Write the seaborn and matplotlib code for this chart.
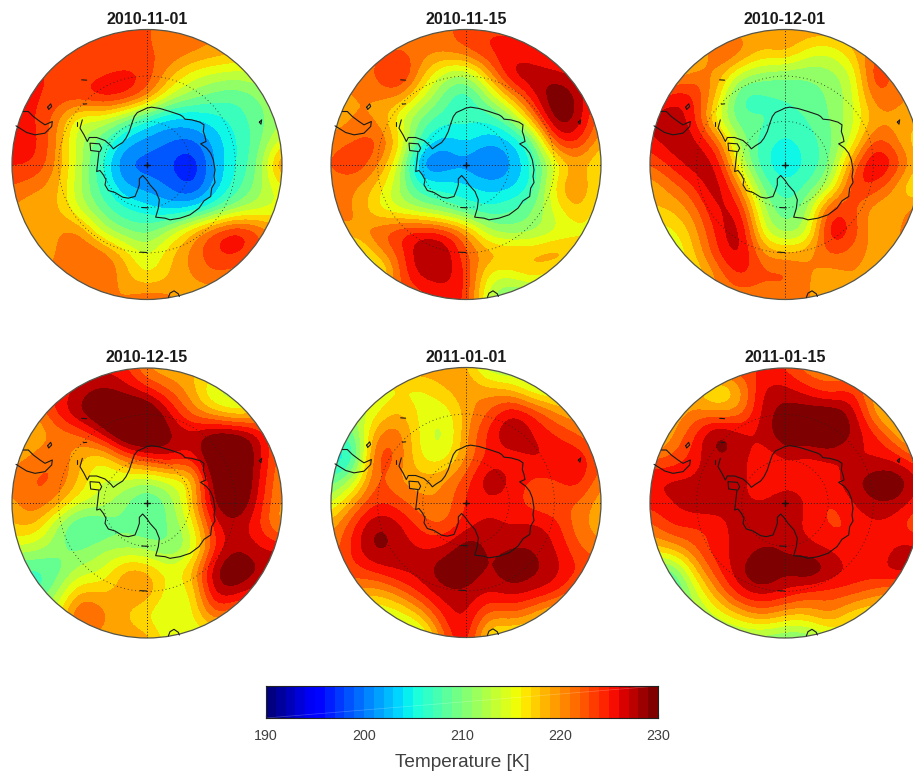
import numpy as np
import seaborn as sns
from matplotlib import pyplot as plt
from matplotlib.colors import BoundaryNorm
from matplotlib.patches import Circle

sns.set_theme(style="white")
plt.rcParams["font.family"] = ["Liberation Sans", "DejaVu Sans"]

dates = ["2010-11-01", "2010-11-15", "2010-12-01", "2010-12-15", "2011-01-01", "2011-01-15"]
bar_ticks = [190, 200, 210, 220, 230]

# temperature [K] read on a 13x13 grid over each disc, top row first
t_2010_11_01 = [
    [225, 225, 225, 225, 225, 225, 222, 221, 221, 220, 219, 219, 219],
    [224, 224, 224, 222, 220.5, 222, 222, 222, 221, 220, 219, 218, 218],
    [224, 224, 224, 222, 224, 225, 224, 219, 215, 213.5, 213, 214, 214],
    [224.5, 224.5, 223.5, 224.5, 226.5, 226, 222, 214, 211, 209, 208, 210, 213],
    [224.5, 224.5, 221, 213, 214, 210, 205, 202.5, 203.5, 205, 207, 209, 212],
    [224.5, 225.5, 220, 212, 209, 202.5, 201, 200, 199, 202.5, 206, 209, 215],
    [224.5, 224.5, 220, 213, 206, 199, 199, 198, 195, 202.5, 206, 210, 223],
    [222, 220.5, 219, 212, 207, 202, 201, 200, 196.5, 202.5, 207, 211, 216],
    [220, 218, 219, 213, 209, 206, 205, 202.5, 203.5, 207, 211, 213, 214],
    [218, 218, 220, 221.5, 213, 210, 209, 213, 219, 224, 227, 223, 219],
    [218, 218, 220, 222.5, 222.5, 218, 213, 218, 221, 224, 225, 221, 220],
    [220, 220, 221, 221, 222.5, 219, 215, 218, 220, 222, 220, 220, 220],
    [220, 220, 220, 220, 220, 220, 222.5, 221, 218, 218, 218, 218, 218],
]
t_2010_11_15 = [
    [221, 221, 221, 221, 221, 221, 223.5, 223.5, 223.5, 223.5, 222, 222, 222],
    [221, 221, 221, 222, 221, 221, 222.5, 225, 225, 224, 222, 222, 222],
    [220, 220, 222.5, 227.5, 219, 213, 211, 219, 228, 228, 227, 225, 225],
    [220, 220, 220, 220.5, 215, 209, 205, 212, 219, 226, 231, 228, 221],
    [218, 220, 220, 214, 209, 207, 207, 206, 210, 220, 231, 228, 220],
    [221, 222, 224, 218, 207, 202, 205, 202, 203, 208, 225, 225, 218],
    [222, 225, 221, 215, 198, 200, 201, 198, 201.5, 206, 214, 219, 215],
    [221, 220, 218, 212, 206, 205, 205, 203, 203, 206, 218, 221.5, 215],
    [220, 221, 215, 213, 211, 209, 206, 206, 208, 210, 215, 219, 214],
    [220, 220, 222, 225, 226, 225, 221, 212, 210, 211, 213, 215, 215],
    [212, 212, 219, 222, 229, 229, 222, 220, 220, 219, 221, 218, 218],
    [211, 211, 211, 222, 227, 227, 225, 214, 214, 218, 214, 214, 214],
    [222, 222, 222, 222, 222, 225, 225, 212, 208, 208, 208, 208, 208],
]
t_2010_12_01 = [
    [219, 219, 219, 219, 219, 219, 220, 220, 220, 220, 220, 220, 220],
    [215, 215, 215, 224, 222, 218, 220, 215, 214, 218, 222, 222, 222],
    [218, 218, 221, 220, 213, 211, 210, 210, 211, 213, 226, 220, 220],
    [222, 226, 225, 218, 206, 207, 208, 209, 210, 213, 222.5, 221, 219],
    [227, 228, 225, 213, 208, 209, 207, 208, 210, 213, 219, 219, 219],
    [225, 228, 227, 222.5, 211, 207, 205, 207, 209, 214, 224, 220, 215],
    [222, 225, 228, 227, 213, 206, 204, 206, 209, 221, 228.5, 224, 218],
    [218, 221, 224, 229, 220, 209, 206, 208, 212, 225, 224, 219, 213],
    [218, 218, 221, 227, 226, 212, 208, 211, 225, 222.5, 218, 218, 222],
    [215, 215, 219, 225, 229, 214, 210, 212, 228, 224, 218, 219, 225],
    [213, 213, 218, 224, 228, 220, 219, 220, 222.5, 221, 219, 220, 220],
    [215, 215, 215, 220, 225, 222.5, 224, 220, 218, 220, 219, 219, 219],
    [220, 220, 220, 220, 220, 220, 220, 220, 220, 220, 220, 220, 220],
]
t_2010_12_15 = [
    [225, 225, 225, 225, 225, 225, 219, 218, 218, 218, 218, 218, 218],
    [224, 224, 224, 227, 229, 227, 225, 222, 219, 212, 212, 212, 212],
    [219, 219, 225, 229, 232, 233, 233, 226, 221, 218, 215, 218, 218],
    [215, 218, 220, 221, 226, 233, 233, 229, 227, 231, 231, 227, 220],
    [219, 221, 222.5, 218, 215, 221, 225, 227, 224, 233, 232, 227, 220],
    [221, 222.5, 222.5, 218, 213, 214, 211, 214, 215, 231, 233, 226, 219],
    [219, 222.5, 220, 214, 214, 210, 207, 210, 218, 229, 232, 225, 219],
    [218, 219, 211, 206, 207, 210, 208, 210, 214, 226, 227, 224, 218],
    [214, 213, 211, 209, 212, 211, 211, 209, 212, 224, 228, 226, 226],
    [207, 207, 208, 213, 213, 220, 219, 215, 218, 229, 232, 228, 228],
    [206, 206, 212, 219, 218, 219, 221, 214, 215, 228, 227, 224, 224],
    [214, 214, 214, 225, 221, 218, 215, 213, 215, 222.5, 219, 219, 219],
    [219, 219, 219, 219, 219, 219, 220, 214, 214, 214, 214, 214, 214],
]
t_2011_01_01 = [
    [220, 220, 220, 220, 220, 220, 219, 211, 211, 211, 211, 211, 211],
    [214, 214, 214, 215, 215, 218, 220, 219, 218, 213, 213, 213, 213],
    [212, 212, 215, 219, 215, 214, 219, 222, 227, 224, 220, 218, 218],
    [208, 208, 221, 222, 215, 212, 220, 225, 229.5, 226, 224, 222, 219],
    [204, 204, 225, 222, 215, 214, 220, 225, 224, 227, 226, 226, 222],
    [208, 212, 224, 219, 219, 220, 223, 229, 226, 223, 224, 226, 220],
    [213, 220, 224, 223, 220, 220, 225, 225, 225, 222, 222, 222, 218],
    [219, 224, 229, 227, 223, 221, 225, 227, 225.5, 227, 225, 220, 219],
    [220, 225, 230, 227, 226, 226, 231, 227, 228, 228, 226, 222, 220],
    [223, 223, 225, 227, 227, 230.5, 230.5, 227, 231, 229, 227, 224, 224],
    [220, 220, 218, 221, 225, 227.5, 227.5, 226, 227, 226, 225, 220, 220],
    [213, 213, 213, 214, 218, 225, 227, 220, 222, 219, 215, 215, 215],
    [211, 211, 211, 211, 211, 222, 227, 214, 214, 214, 214, 214, 214],
]
t_2011_01_15 = [
    [224, 224, 224, 224, 224, 224, 224, 220, 220, 220, 220, 220, 220],
    [218, 218, 218, 213, 218, 227, 227, 225, 222, 225, 218, 218, 218],
    [218, 218, 221, 220, 220, 227, 229.5, 230, 231, 228, 219, 214, 214],
    [214, 220, 224, 231, 227, 226, 231, 230, 232, 228, 225, 220, 213],
    [222, 222, 225, 228, 227, 224, 226, 225, 226, 225, 226, 225, 222],
    [226, 227, 226, 228, 227, 224, 225, 225, 225, 228, 230, 231, 226],
    [225, 226, 228, 228, 226, 226, 228, 226, 223, 226, 228, 228, 224],
    [221, 225, 224, 224, 228, 227, 226, 226, 223, 224, 226, 224, 221],
    [218, 219, 222, 226, 226, 228, 228, 226, 226, 224, 223, 227, 227],
    [208, 208, 218, 224, 228, 232, 228, 232, 228, 226, 226, 228, 227],
    [205, 205, 213, 220, 226, 227, 226, 223, 223, 223, 221, 219, 219],
    [211, 211, 211, 214, 218, 221, 218, 218, 221, 216, 215, 215, 215],
    [210, 210, 210, 210, 210, 210, 209, 209, 213, 213, 213, 213, 213],
]
fields = [t_2010_11_01, t_2010_11_15, t_2010_12_01, t_2010_12_15, t_2011_01_01, t_2011_01_15]

# coast outlines, traced on the first panel (crop pixels, disc centre 441,494 radius 405)
antarctica_x = [247, 240, 252, 262, 268, 290, 315, 332, 340, 352, 368, 378, 388, 395, 403, 412, 430,
                440, 455, 480, 510, 540, 548, 555, 575, 600, 612, 610, 615, 618, 602, 620, 632, 640,
                645, 642, 645, 635, 632, 612, 597, 570, 540, 510, 495, 467, 475, 478, 468, 450, 440,
                428, 418, 418, 413, 405, 385, 368, 345, 325, 315, 318, 310, 300, 290, 293, 297, 272,
                270, 298, 305, 300]
antarctica_y = [360, 385, 405, 425, 413, 413, 422, 437, 447, 438, 428, 415, 395, 372, 350, 338, 330,
                325, 322, 326, 335, 345, 350, 358, 360, 367, 375, 395, 410, 425, 432, 445, 460, 480,
                510, 530, 548, 565, 590, 603, 625, 645, 655, 660, 655, 652, 625, 600, 575, 555, 540,
                527, 537, 555, 570, 590, 595, 592, 578, 572, 555, 540, 525, 512, 515, 490, 455, 452,
                430, 432, 445, 455]
australia_x = [48, 80, 105, 135, 155, 157, 135, 120, 100, 85, 70]
australia_y = [378, 398, 405, 400, 380, 365, 375, 365, 350, 335, 335]
island_x = [505, 510, 522, 535, 538]
island_y = [893, 880, 873, 882, 890]
tasmania_x = [143, 152, 155, 146, 143]
tasmania_y = [322, 312, 320, 329, 322]
blob_a_x = [245, 260]
blob_a_y = [240, 241]
blob_b_x = [778, 785, 783, 778]
blob_b_y = [367, 360, 373, 367]
blob_c_x = [250, 260]
blob_c_y = [313, 312]
blob_d_x = [232, 232]
blob_d_y = [365, 378]
dash_a_x = [425, 445]
dash_a_y = [623, 624]
dash_b_x = [420, 440]
dash_b_y = [757, 758]
coasts = [
    (antarctica_x, antarctica_y), (australia_x, australia_y), (island_x, island_y),
    (tasmania_x, tasmania_y), (blob_a_x, blob_a_y), (blob_b_x, blob_b_y), (blob_c_x, blob_c_y),
    (blob_d_x, blob_d_y), (dash_a_x, dash_a_y), (dash_b_x, dash_b_y),
]

W, H = 913, 774
R = 135
centres = [(147, 164.5), (466, 164.5), (785, 164.5), (147, 503), (466, 502.5), (785, 503)]

levels = np.arange(190, 232, 2)
band_cmap = plt.get_cmap("jet").resampled(20)
band_norm = BoundaryNorm(levels, 20, clip=True)
half_cell = 1 / 12

fig = plt.figure(figsize=(W / 100, H / 100), dpi=100)

for date, field, (cx, cy) in zip(dates, fields, centres):
    ax = fig.add_axes([(cx - R) / W, 1 - (cy + R) / H, 2 * R / W, 2 * R / H])
    im = ax.imshow(np.array(field, dtype=float), cmap=band_cmap, norm=band_norm,
                   interpolation="bicubic", interpolation_stage="data",
                   extent=(-1 - half_cell, 1 + half_cell, -1 - half_cell, 1 + half_cell))
    im.set_clip_path(Circle((0, 0), 1, transform=ax.transData))

    # graticule
    for r in (0.32, 0.655):
        ax.add_patch(Circle((0, 0), r, fill=False, ec="#222222", lw=0.6, ls=(0, (1, 3.5))))
    ax.plot([-1, 1], [0, 0], color="#222222", lw=0.7, ls=(0, (1, 2)))
    ax.plot([0, 0], [-1, 1], color="#222222", lw=0.7, ls=(0, (1, 2)))
    ax.plot([-0.02, 0.02], [0, 0], color="#111111", lw=1)
    ax.plot([0, 0], [-0.02, 0.02], color="#111111", lw=1)

    for xs, ys in coasts:
        sns.lineplot(x=(np.array(xs) - 441) / 405, y=(494 - np.array(ys)) / 405, sort=False,
                     estimator=None, color="#1a1a1a", lw=0.8, ax=ax, legend=False)

    ax.add_patch(Circle((0, 0), 1, fill=False, ec="#55554a", lw=0.9, clip_on=False))
    ax.set_xlim(-1, 1)
    ax.set_ylim(-1, 1)
    ax.set_aspect("equal")
    ax.axis("off")
    ax.text(0, 1.02, date, ha="center", va="bottom", fontsize=11.5, fontweight="bold", color="#1a1a1a")

# colour bar
cax = fig.add_axes([266 / W, 1 - 718 / H, 392 / W, 32 / H])
bar_values = np.arange(190.5, 230, 1.0)
sns.heatmap(bar_values[np.newaxis, :], cmap=plt.get_cmap("jet").resampled(40), vmin=190,
            vmax=230, cbar=False, ax=cax, xticklabels=False, yticklabels=False)
cax.plot([0, 1], [0, 1], transform=cax.transAxes, color="white", lw=0.5, alpha=0.25)
for side in cax.spines.values():
    side.set_visible(True)
    side.set_color("#222222")
    side.set_linewidth(0.8)
cax.set_xticks([t - 190 for t in bar_ticks])
cax.set_xticklabels(bar_ticks, rotation=0, fontsize=10.3, color="#404040")
cax.tick_params(axis="x", bottom=True, direction="in", length=3, width=0.8, color="#222222", pad=8)
cax.set_xlabel("Temperature [K]", fontsize=13.7, color="#404040", labelpad=8)

fig.savefig("out.png", dpi=100)
